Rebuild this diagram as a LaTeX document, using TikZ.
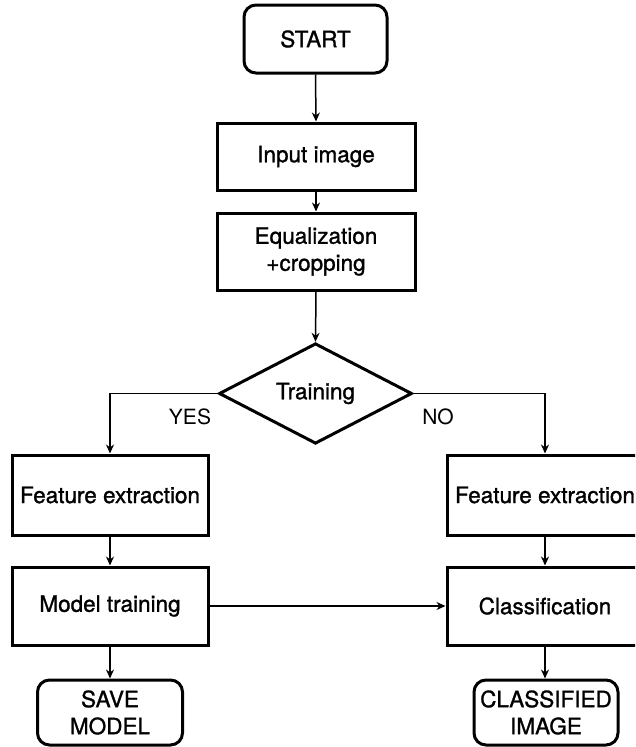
\documentclass[tikz,border=0pt]{standalone}
\usepackage{fontspec}
\setmainfont{TeX Gyre Heros}
\newfontfamily\boxfont{TeX Gyre Heros}[FakeBold=1.2]
\usetikzlibrary{shapes.geometric,arrows.meta}

\tikzstyle{flowbox}=[shape=rectangle, draw, line width=3pt, align=center, inner sep=0pt, font=\boxfont\fontsize{22.5}{27}\selectfont]
\tikzstyle{termbox}=[flowbox, rounded corners=12pt]
\tikzstyle{decision}=[shape=diamond, draw, line width=3pt, inner sep=0pt, minimum width=193pt, minimum height=87pt, font=\boxfont\fontsize{22.5}{27}\selectfont]
\tikzstyle{flowline}=[line width=1.5pt, -{Stealth[length=9pt,width=8pt]}]
\tikzstyle{branchlabel}=[font=\fontsize{21}{25}\selectfont]

\begin{document}
\begin{tikzpicture}[x=1pt,y=-1pt]
        \clip (0,0) rectangle (635,747);
        \node[termbox, minimum width=143pt, minimum height=68pt] at (315.5,39) (start) {START};
        \node[flowbox, minimum width=198pt, minimum height=67pt] at (316,156.5) (input) {Input image};
        \node[flowbox, minimum width=198pt, minimum height=77pt] at (316,251.5) (equal) {Equalization\\+cropping};
        \node[decision] at (315.5,393.5) (training) {Training};
        \node[flowbox, minimum width=196pt, minimum height=80pt] at (110,495) (featleft) {Feature extraction};
        \node[flowbox, minimum width=196pt, minimum height=80pt] at (545,495) (featright) {Feature extraction};
        \node[flowbox, minimum width=196pt, minimum height=78pt] at (110,606) (modeltrain) {Model training};
        \node[flowbox, minimum width=196pt, minimum height=78pt] at (545,606) (classify) {Classification};
        \node[termbox, minimum width=145pt, minimum height=65pt] at (110,712.5) (savemodel) {SAVE\\MODEL};
        \node[termbox, minimum width=144pt, minimum height=65pt] at (546,712.5) (classified) {CLASSIFIED\\IMAGE};
        \node[branchlabel] at (190,417) (yes) {YES};
        \node[branchlabel] at (438,417) (no) {NO};
        \draw [flowline] (start.south) -- (input.north);
        \draw [flowline] (input.south) -- (equal.north);
        \draw [flowline] (equal.south) -- (training.north);
        \draw [flowline] (training.west) -| (featleft.north);
        \draw [flowline] (training.east) -| (featright.north);
        \draw [flowline] (featleft.south) -- (modeltrain.north);
        \draw [flowline] (featright.south) -- (classify.north);
        \draw [flowline] (modeltrain.east) -- (classify.west);
        \draw [flowline] (modeltrain.south) -- (savemodel.north);
        \draw [flowline] (classify.south) -- (classified.north -| classify.south);
    \end{tikzpicture}
\end{document}
